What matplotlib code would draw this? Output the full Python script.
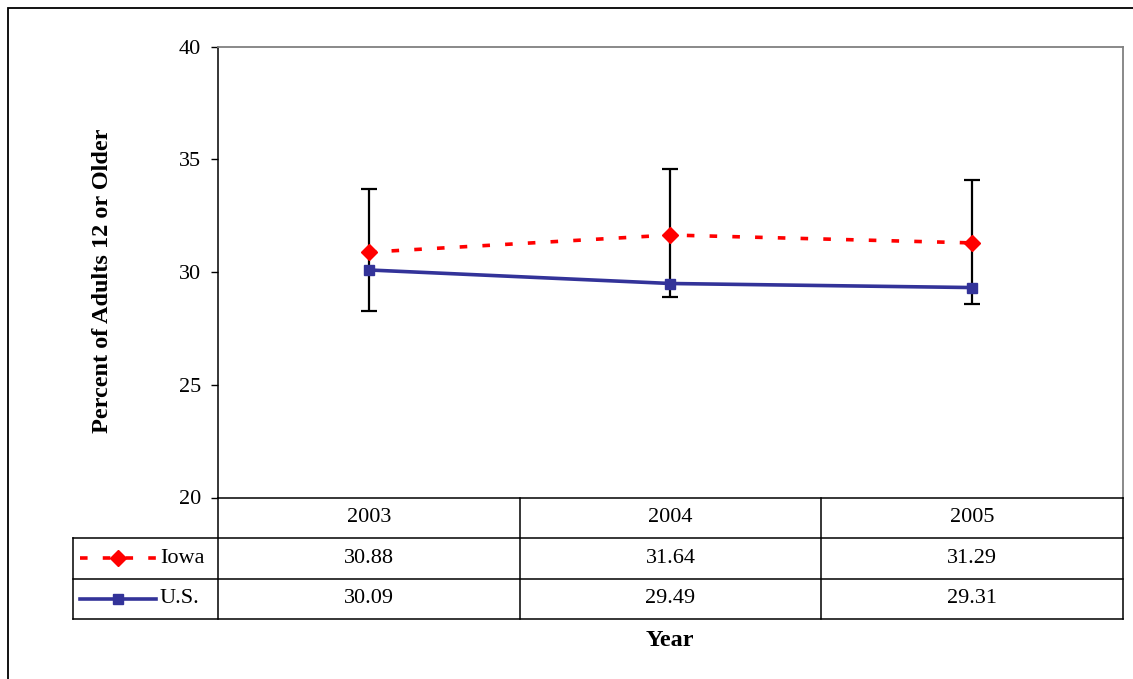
import matplotlib
matplotlib.use("Agg")
import matplotlib.pyplot as plt
from matplotlib.lines import Line2D
from matplotlib.patches import Rectangle
import numpy as np

years = ["2003", "2004", "2005"]
iowa = [30.88, 31.64, 31.29]
us = [30.09, 29.49, 29.31]
# confidence limits drawn as error bars on the Iowa series
iowa_low = [28.25, 28.9, 28.56]
iowa_high = [33.7, 34.58, 34.09]

RED = "#FF0000"
BLUE = "#333399"
W, H = 1133, 679
FS = 16
FS_LAB = 17.5

plt.rcParams["font.family"] = ["Liberation Serif", "DejaVu Serif"]

fig = plt.figure(figsize=(W / 100, H / 100), dpi=100)

def px_box(x0, y0, x1, y1):
    # pixel box (top-left origin) -> figure fraction rect
    return [x0 / W, 1 - y1 / H, (x1 - x0) / W, (y1 - y0) / H]

# outer frame
fig.patches.append(Rectangle((8 / W, -0.1), 1.2, 1 - 8 / H + 0.1, transform=fig.transFigure,
                             fill=False, edgecolor="black", linewidth=1.3))

ax = fig.add_axes(px_box(218, 46.5, 1123, 497.5))
x = np.arange(len(years))

ax.errorbar(x, iowa, yerr=[np.array(iowa) - np.array(iowa_low), np.array(iowa_high) - np.array(iowa)],
            fmt="none", ecolor="black", elinewidth=1.6, capsize=5.5, capthick=1.6, zorder=2)
ax.plot(x, us, color=BLUE, linewidth=2.6, marker="s", markersize=7.5, zorder=3)
ax.plot(x, iowa, color=RED, linewidth=2.6, linestyle=(0, (2.1, 4.2)), dash_capstyle="butt",
        marker="D", markersize=8.5, zorder=4)

ax.set_xlim(-0.5, 2.5)
ax.set_ylim(20, 40)
ax.set_yticks([20, 25, 30, 35, 40])
ax.tick_params(axis="y", direction="out", length=5, width=1, pad=7, labelsize=FS)
ax.set_xticks([])
for s in ("top", "right"):
    ax.spines[s].set_color("#808080")
    ax.spines[s].set_linewidth(1.3)
for s in ("left", "bottom"):
    ax.spines[s].set_color("black")
    ax.spines[s].set_linewidth(1.1)

fig.text(103 / W, 1 - 281 / H, "Percent of Adults 12 or Older", rotation=90,
         ha="center", va="center", fontsize=FS_LAB, fontweight="bold")
fig.text(670 / W, 1 - 641 / H, "Year", ha="center", va="center", fontsize=FS_LAB, fontweight="bold")

# data table below the plot
tab = fig.add_axes(px_box(73, 497.5, 1123, 619))
unit = 905 / 3
left = -0.5 - (218 - 73) / unit
tab.set_xlim(left, 2.5)
tab.set_ylim(3, 0)
tab.axis("off")

lc = "black"
lw = 1.1
tab.plot([-0.5, -0.5], [0, 3], color=lc, lw=lw, clip_on=False)
for b in (0.5, 1.5):
    tab.plot([b, b], [0, 3], color=lc, lw=lw, clip_on=False)
tab.plot([2.5, 2.5], [0, 3], color=lc, lw=lw, clip_on=False)
tab.plot([left, left], [1, 3], color=lc, lw=lw, clip_on=False)
for r in (1, 2, 3):
    tab.plot([left, 2.5], [r, r], color=lc, lw=lw, clip_on=False)

for i, yr in enumerate(years):
    tab.text(i, 0.5, yr, ha="center", va="center", fontsize=FS)
    tab.text(i, 1.5, f"{iowa[i]:.2f}", ha="center", va="center", fontsize=FS)
    tab.text(i, 2.5, f"{us[i]:.2f}", ha="center", va="center", fontsize=FS)

kx0 = left + 7 / unit
kx1 = left + 83 / unit
tab.add_line(Line2D([kx0, kx1], [1.5, 1.5], color=RED, linewidth=2.6, linestyle=(0, (2.1, 4.2)),
                    dash_capstyle="butt", clip_on=False))
tab.plot([(kx0 + kx1) / 2], [1.5], marker="D", color=RED, markersize=8.5, clip_on=False)
tab.add_line(Line2D([kx0, kx1], [2.5, 2.5], color=BLUE, linewidth=2.6, clip_on=False))
tab.plot([(kx0 + kx1) / 2], [2.5], marker="s", color=BLUE, markersize=7.5, clip_on=False)
tab.text(left + 87 / unit, 1.5, "Iowa", ha="left", va="center", fontsize=FS)
tab.text(left + 87 / unit, 2.5, "U.S.", ha="left", va="center", fontsize=FS)

fig.savefig("out.png", dpi=100)
